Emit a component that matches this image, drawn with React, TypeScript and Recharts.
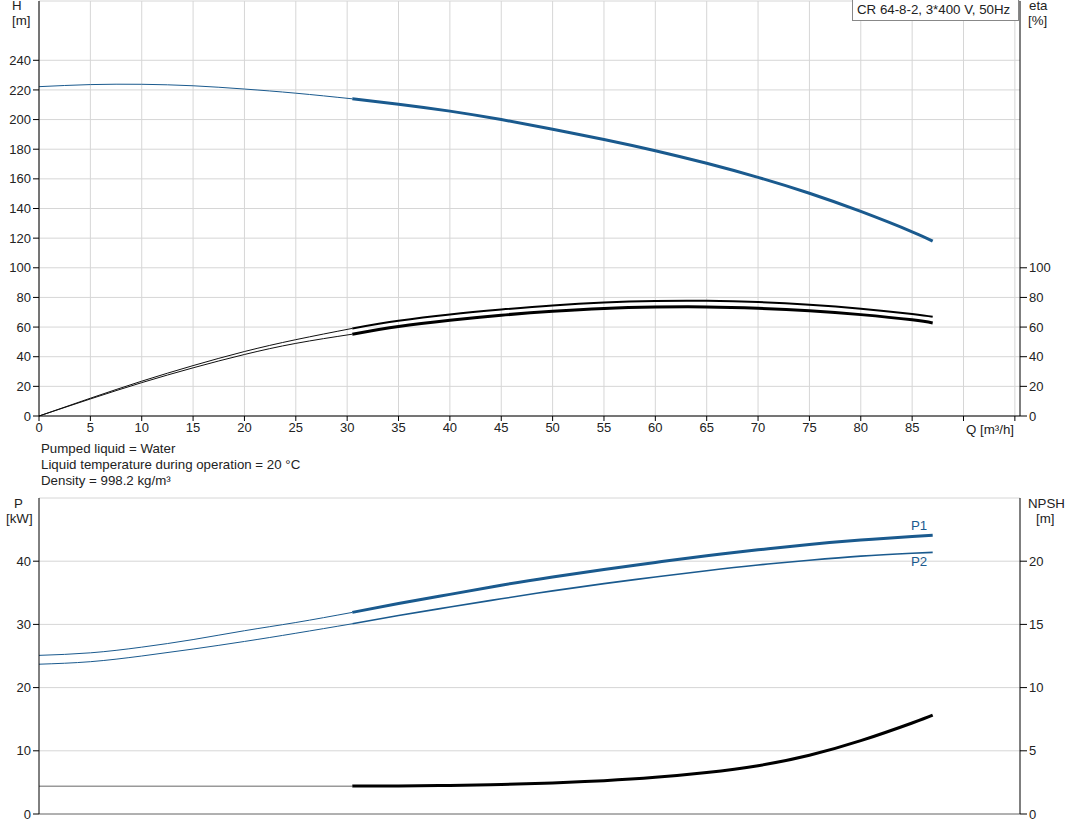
import { CartesianGrid, Line, LineChart, XAxis, YAxis } from "recharts";

// flow points (m³/h): thin part before the duty range, thick part inside it
const qLow = [0, 5, 10, 15, 20, 25, 30.5];
const qHigh = [30.5, 35, 40, 45, 50, 55, 60, 65, 70, 75, 80, 85, 87];

const headLow = [222.2, 223.6, 223.8, 222.8, 220.6, 217.8, 214.0];
const headHigh = [214.0, 210.4, 205.7, 200.0, 193.5, 186.6, 179.0, 170.5, 161.0, 150.3, 138.0, 124.3, 118.0];

const etaPumpLow = [0, 12, 23.5, 34, 43.5, 51.5, 59.1];
const etaPumpHigh = [59.1, 64.2, 68.5, 71.8, 74.6, 76.6, 77.6, 77.7, 76.9, 75.1, 72.4, 68.8, 66.9];
const etaTotalLow = [0, 11.5, 22.5, 32.5, 41.5, 49, 55.2];
const etaTotalHigh = [55.2, 60.4, 64.6, 68.0, 70.7, 72.6, 73.5, 73.6, 72.7, 71.0, 68.4, 64.9, 62.8];

const p1Low = [25.1, 25.5, 26.4, 27.6, 29.0, 30.3, 31.9];
const p1High = [31.9, 33.3, 34.75, 36.2, 37.5, 38.7, 39.8, 40.85, 41.8, 42.65, 43.35, 43.9, 44.1];
const p2Low = [23.7, 24.1, 25.0, 26.1, 27.3, 28.6, 30.1];
const p2High = [30.1, 31.4, 32.75, 34.05, 35.3, 36.45, 37.5, 38.5, 39.4, 40.15, 40.8, 41.25, 41.4];

const npshLow = [2.2, 2.2, 2.2, 2.2, 2.2, 2.2, 2.2];
const npshHigh = [2.21, 2.22, 2.26, 2.34, 2.46, 2.64, 2.9, 3.28, 3.82, 4.65, 5.8, 7.2, 7.82];

const qTicks = [0, 5, 10, 15, 20, 25, 30, 35, 40, 45, 50, 55, 60, 65, 70, 75, 80, 85, 90, 95];
const qLabels = ["0", "5", "10", "15", "20", "25", "30", "35", "40", "45", "50", "55", "60", "65", "70", "75", "80", "85", "", ""];
const hTicks = [0, 20, 40, 60, 80, 100, 120, 140, 160, 180, 200, 220, 240];
const hGrid = [0, 20, 40, 60, 80, 100, 120, 140, 160, 180, 200, 220, 240, 260, 280];
const etaTicks = [0, 20, 40, 60, 80, 100];
const pTicks = [0, 10, 20, 30, 40];
const pGrid = [0, 10, 20, 30, 40, 50];
const npshTicks = [0, 5, 10, 15, 20];

const lowRows = qLow.map((q, i) => ({
  q,
  head: headLow[i],
  etaPump: etaPumpLow[i],
  etaTotal: etaTotalLow[i],
  p1: p1Low[i],
  p2: p2Low[i],
  npsh: npshLow[i],
}));
const highRows = qHigh.map((q, i) => ({
  q,
  head: headHigh[i],
  etaPump: etaPumpHigh[i],
  etaTotal: etaTotalHigh[i],
  p1: p1High[i],
  p2: p2High[i],
  npsh: npshHigh[i],
}));

const BLUE = "#1a5a8e";
const TXT = "#222";
const FS = 13.3;
const tickStyle = { fill: TXT, fontSize: 13 };

const lbl = (left: number, top: number, extra: object = {}) => ({
  position: "absolute" as const,
  left,
  top,
  fontSize: FS,
  lineHeight: "16px",
  color: TXT,
  whiteSpace: "nowrap" as const,
  ...extra,
});

export default function App() {
  return (
    <div
      style={{
        position: "absolute",
        left: 0,
        top: 0,
        width: 1071,
        height: 833,
        background: "#fff",
        fontFamily: "'Liberation Sans', Arial, sans-serif",
      }}
    >
      <div style={{ position: "absolute", left: 0, top: 0 }}>
        <LineChart width={1071} height={440} margin={{ top: 1, right: 0, bottom: 0, left: 0 }}>
          <CartesianGrid stroke="#d6d6d6" yAxisId="h" horizontalValues={hGrid} verticalValues={qTicks} />
          <XAxis
            type="number"
            dataKey="q"
            domain={[0, 95.5]}
            ticks={qTicks}
            tickFormatter={(v: number) => qLabels[qTicks.indexOf(v)] ?? ""}
            allowDataOverflow
            height={24}
            stroke="#000"
            tick={tickStyle}
            tickSize={5}
          />
          <YAxis yAxisId="h" domain={[0, 280]} ticks={hTicks} width={39} stroke="#000" tick={tickStyle} tickSize={6} />
          <YAxis
            yAxisId="eta"
            orientation="right"
            domain={[0, 280]}
            ticks={etaTicks}
            width={51}
            stroke="#000"
            tick={tickStyle}
            tickSize={7}
          />
          <Line yAxisId="h" data={lowRows} dataKey="head" type="natural" stroke={BLUE} strokeWidth={1} dot={false} isAnimationActive={false} />
          <Line yAxisId="h" data={highRows} dataKey="head" type="natural" stroke={BLUE} strokeWidth={3} dot={false} isAnimationActive={false} />
          <Line yAxisId="eta" data={lowRows} dataKey="etaPump" type="natural" stroke="#111" strokeWidth={1} dot={false} isAnimationActive={false} />
          <Line yAxisId="eta" data={highRows} dataKey="etaPump" type="natural" stroke="#000" strokeWidth={2} dot={false} isAnimationActive={false} />
          <Line yAxisId="eta" data={lowRows} dataKey="etaTotal" type="natural" stroke="#111" strokeWidth={1} dot={false} isAnimationActive={false} />
          <Line yAxisId="eta" data={highRows} dataKey="etaTotal" type="natural" stroke="#000" strokeWidth={3} dot={false} isAnimationActive={false} />
        </LineChart>
      </div>

      <div style={{ position: "absolute", left: 0, top: 490 }}>
        <LineChart width={1071} height={343} margin={{ top: 8, right: 0, bottom: 0, left: 0 }}>
          <CartesianGrid stroke="#d6d6d6" yAxisId="p" horizontalValues={pGrid} verticalValues={qTicks} />
          <XAxis
            type="number"
            dataKey="q"
            domain={[0, 95.5]}
            ticks={qTicks}
            allowDataOverflow
            height={19}
            stroke="#777"
            tick={false}
            tickLine={false}
          />
          <YAxis yAxisId="p" domain={[0, 50]} ticks={pTicks} width={39} stroke="#000" tick={tickStyle} tickSize={6} />
          <YAxis
            yAxisId="npsh"
            orientation="right"
            domain={[0, 25]}
            ticks={npshTicks}
            width={51}
            stroke="#000"
            tick={tickStyle}
            tickSize={7}
          />
          <Line yAxisId="p" data={lowRows} dataKey="p1" type="natural" stroke={BLUE} strokeWidth={1} dot={false} isAnimationActive={false} />
          <Line yAxisId="p" data={highRows} dataKey="p1" type="natural" stroke={BLUE} strokeWidth={3} dot={false} isAnimationActive={false} />
          <Line yAxisId="p" data={lowRows} dataKey="p2" type="natural" stroke={BLUE} strokeWidth={1} dot={false} isAnimationActive={false} />
          <Line yAxisId="p" data={highRows} dataKey="p2" type="natural" stroke={BLUE} strokeWidth={1.6} dot={false} isAnimationActive={false} />
          <Line yAxisId="npsh" data={lowRows} dataKey="npsh" type="linear" stroke="#999" strokeWidth={1.5} dot={false} isAnimationActive={false} />
          <Line yAxisId="npsh" data={highRows} dataKey="npsh" type="natural" stroke="#000" strokeWidth={3} dot={false} isAnimationActive={false} />
        </LineChart>
      </div>

      {/* title box */}
      <div
        style={{
          position: "absolute",
          left: 852,
          top: 0,
          width: 167,
          height: 21,
          border: "1px solid #888",
          borderTop: "none",
          background: "#fff",
          boxSizing: "border-box",
        }}
      />
      <div style={lbl(857, 2)}>CR 64-8-2, 3*400 V, 50Hz</div>

      {/* axis titles */}
      <div style={lbl(12, -2)}>H</div>
      <div style={lbl(12, 13)}>[m]</div>
      <div style={lbl(1029, -2)}>eta</div>
      <div style={lbl(1028, 13)}>[%]</div>
      <div style={lbl(966, 422)}>Q [m³/h]</div>

      <div style={lbl(41, 441)}>Pumped liquid = Water</div>
      <div style={lbl(41, 457)}>Liquid temperature during operation = 20 °C</div>
      <div style={lbl(41, 473)}>Density = 998.2 kg/m³</div>

      <div style={lbl(14, 496)}>P</div>
      <div style={lbl(6, 511)}>[kW]</div>
      <div style={lbl(1028, 496)}>NPSH</div>
      <div style={lbl(1036, 511)}>[m]</div>

      <div style={lbl(911, 518, { color: BLUE })}>P1</div>
      <div style={lbl(911, 554, { color: BLUE })}>P2</div>
    </div>
  );
}
